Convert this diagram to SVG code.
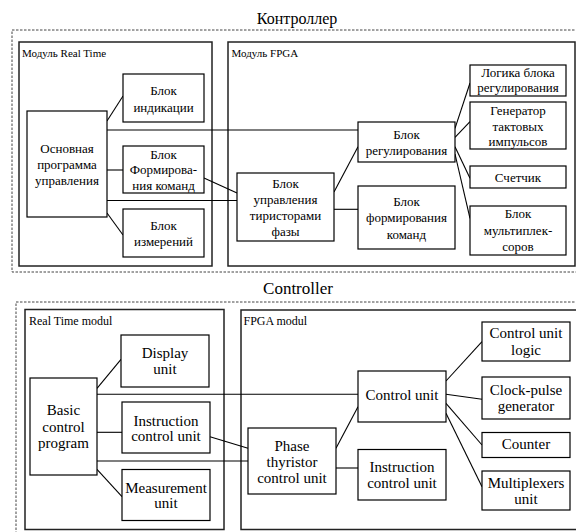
<svg xmlns="http://www.w3.org/2000/svg" width="576" height="532" viewBox="0 0 576 532" font-family="'Liberation Serif', 'Times New Roman', Tinos, 'DejaVu Serif', serif">
<style>
.bg{fill:#fff}
.outer{fill:none;stroke:#444;stroke-width:1;stroke-dasharray:2.5 1.5}
.mod{fill:none;stroke:#222;stroke-width:1.5}
.node rect{fill:#fff;stroke:#000;stroke-width:1.2}
.conn line{stroke:#000;stroke-width:1.1}
text{fill:#000}
.t13{font-size:13px;text-anchor:middle}
.t15{font-size:15px;text-anchor:middle}
.lab1{font-size:11px}
.lab2{font-size:12px}
.title1{font-size:16px;text-anchor:middle}
.title2{font-size:17px;text-anchor:middle}
</style>
<rect class="bg" x="0" y="0" width="576" height="532"/>

<!-- ===== Top (Russian) ===== -->
<g id="ru-controller">
<text class="title1" x="297" y="24">Контроллер</text>
<rect class="outer" x="12" y="30" width="570" height="242"/>
</g>
<g id="ru-rt-module">
<rect class="mod" x="19" y="42" width="193" height="224"/>
<text class="lab1" x="22" y="57">Модуль Real Time</text>
</g>
<g id="ru-fpga-module">
<rect class="mod" x="228" y="42" width="347" height="224"/>
<text class="lab1" x="231.5" y="57">Модуль FPGA</text>
</g>

<g id="ru-connectors" class="conn">
<line x1="107" y1="121" x2="123" y2="96"/>
<line x1="107" y1="170" x2="123" y2="170"/>
<line x1="107" y1="213" x2="123" y2="235"/>
<line x1="107" y1="130" x2="358" y2="130"/>
<line x1="107" y1="200.5" x2="237" y2="200.5"/>
<line x1="204" y1="178" x2="237" y2="193"/>
<line x1="334" y1="192" x2="358" y2="146.7"/>
<line x1="334" y1="209.3" x2="358" y2="209.3"/>
<line x1="455" y1="128.3" x2="470" y2="83"/>
<line x1="455" y1="137.3" x2="470" y2="121.7"/>
<line x1="455" y1="146.7" x2="470" y2="178.3"/>
<line x1="455" y1="154" x2="470" y2="218.3"/>
</g>

<g id="ru-main" class="node">
<rect x="27" y="111" width="80" height="106"/>
<text class="t13" x="67" y="152.5">Основная</text>
<text class="t13" x="67" y="168.5">программа</text>
<text class="t13" x="67" y="184.5">управления</text>
</g>
<g id="ru-ind" class="node">
<rect x="123" y="74" width="81" height="48"/>
<text class="t13" x="163.5" y="94.5">Блок</text>
<text class="t13" x="163.5" y="111.5">индикации</text>
</g>
<g id="ru-form" class="node">
<rect x="123" y="146" width="81" height="47"/>
<text class="t13" x="163.5" y="158.5">Блок</text>
<text class="t13" x="163.5" y="174">Формирова-</text>
<text class="t13" x="163.5" y="190">ния команд</text>
</g>
<g id="ru-meas" class="node">
<rect x="123" y="209" width="81" height="48"/>
<text class="t13" x="163.5" y="229.5">Блок</text>
<text class="t13" x="163.5" y="245.5">измерений</text>
</g>
<g id="ru-phase" class="node">
<rect x="237" y="173" width="97" height="68"/>
<text class="t13" x="285.5" y="187.7">Блок</text>
<text class="t13" x="285.5" y="203.9">управления</text>
<text class="t13" x="285.5" y="220.1">тиристорами</text>
<text class="t13" x="285.5" y="236.3">фазы</text>
</g>
<g id="ru-reg" class="node">
<rect x="358" y="122" width="97" height="40"/>
<text class="t13" x="406.5" y="138.8">Блок</text>
<text class="t13" x="406.5" y="155.2">регулирования</text>
</g>
<g id="ru-cmd" class="node">
<rect x="358" y="186" width="97" height="63"/>
<text class="t13" x="406.5" y="205.5">Блок</text>
<text class="t13" x="406.5" y="222">формирования</text>
<text class="t13" x="406.5" y="238.5">команд</text>
</g>
<g id="ru-logic" class="node">
<rect x="470" y="65" width="96" height="31"/>
<text class="t13" x="518" y="77">Логика блока</text>
<text class="t13" x="518" y="91.8">регулирования</text>
</g>
<g id="ru-gen" class="node">
<rect x="470" y="102" width="96" height="47"/>
<text class="t13" x="518" y="114.5">Генератор</text>
<text class="t13" x="518" y="130.5">тактовых</text>
<text class="t13" x="518" y="146.2">импульсов</text>
</g>
<g id="ru-cnt" class="node">
<rect x="470" y="166" width="96" height="22"/>
<text class="t13" x="518" y="181.8">Счетчик</text>
</g>
<g id="ru-mux" class="node">
<rect x="470" y="206" width="96" height="49"/>
<text class="t13" x="518" y="217.8">Блок</text>
<text class="t13" x="518" y="234.5">мультиплек-</text>
<text class="t13" x="518" y="251.2">соров</text>
</g>

<!-- ===== Bottom (English) ===== -->
<g id="en-controller">
<text class="title2" x="298" y="293.5">Controller</text>
<rect class="outer" x="16" y="302" width="570" height="240"/>
</g>
<g id="en-rt-module">
<rect class="mod" x="25" y="309.5" width="199" height="220"/>
<text class="lab2" x="29" y="325">Real Time modul</text>
</g>
<g id="en-fpga-module">
<rect class="mod" x="241" y="310" width="345" height="219.5"/>
<text class="lab2" x="243.5" y="325">FPGA modul</text>
</g>

<g id="en-connectors" class="conn">
<line x1="97" y1="388.3" x2="121" y2="359.3"/>
<line x1="97" y1="394.3" x2="358" y2="394.3"/>
<line x1="97" y1="432.3" x2="122" y2="432.3"/>
<line x1="210" y1="436.7" x2="248" y2="448.3"/>
<line x1="97" y1="461" x2="248" y2="461"/>
<line x1="97" y1="469.3" x2="122" y2="496.7"/>
<line x1="336" y1="448.3" x2="358" y2="406.7"/>
<line x1="336" y1="468" x2="358" y2="468"/>
<line x1="446" y1="381" x2="482" y2="341.7"/>
<line x1="446" y1="394.3" x2="482" y2="399.3"/>
<line x1="446" y1="403.3" x2="482" y2="445"/>
<line x1="446" y1="413.3" x2="482" y2="486.7"/>
</g>

<g id="en-basic" class="node">
<rect x="30" y="378" width="67" height="97"/>
<text class="t15" x="63.5" y="415">Basic</text>
<text class="t15" x="63.5" y="431.7">control</text>
<text class="t15" x="63.5" y="448.3">program</text>
</g>
<g id="en-display" class="node">
<rect x="121" y="335" width="88" height="52"/>
<text class="t15" x="165" y="358.3">Display</text>
<text class="t15" x="165" y="374.3">unit</text>
</g>
<g id="en-instr-rt" class="node">
<rect x="122" y="402" width="88" height="51"/>
<text class="t15" x="166" y="425.7">Instruction</text>
<text class="t15" x="166" y="440.7">control unit</text>
</g>
<g id="en-meas" class="node">
<rect x="122" y="469.5" width="88" height="51"/>
<text class="t15" x="166" y="493.3">Measurement</text>
<text class="t15" x="166" y="508.3">unit</text>
</g>
<g id="en-phase" class="node">
<rect x="248" y="428" width="88" height="66"/>
<text class="t15" x="292" y="451">Phase</text>
<text class="t15" x="292" y="467.3">thyristor</text>
<text class="t15" x="292" y="483.3">control unit</text>
</g>
<g id="en-cu" class="node">
<rect x="358" y="371" width="88" height="51"/>
<text class="t15" x="402" y="400">Control unit</text>
</g>
<g id="en-instr-fpga" class="node">
<rect x="358" y="449.5" width="88" height="50.5"/>
<text class="t15" x="402" y="472.3">Instruction</text>
<text class="t15" x="402" y="488.3">control unit</text>
</g>
<g id="en-logic" class="node">
<rect x="482" y="322" width="88" height="39"/>
<text class="t15" x="526" y="338.3">Control unit</text>
<text class="t15" x="526" y="355">logic</text>
</g>
<g id="en-clock" class="node">
<rect x="482" y="377" width="88" height="42"/>
<text class="t15" x="526" y="395">Clock-pulse</text>
<text class="t15" x="526" y="411">generator</text>
</g>
<g id="en-counter" class="node">
<rect x="482" y="432.5" width="88" height="25"/>
<text class="t15" x="526" y="449">Counter</text>
</g>
<g id="en-mux" class="node">
<rect x="482" y="471" width="88" height="39"/>
<text class="t15" x="526" y="487.7">Multiplexers</text>
<text class="t15" x="526" y="504.3">unit</text>
</g>
</svg>
